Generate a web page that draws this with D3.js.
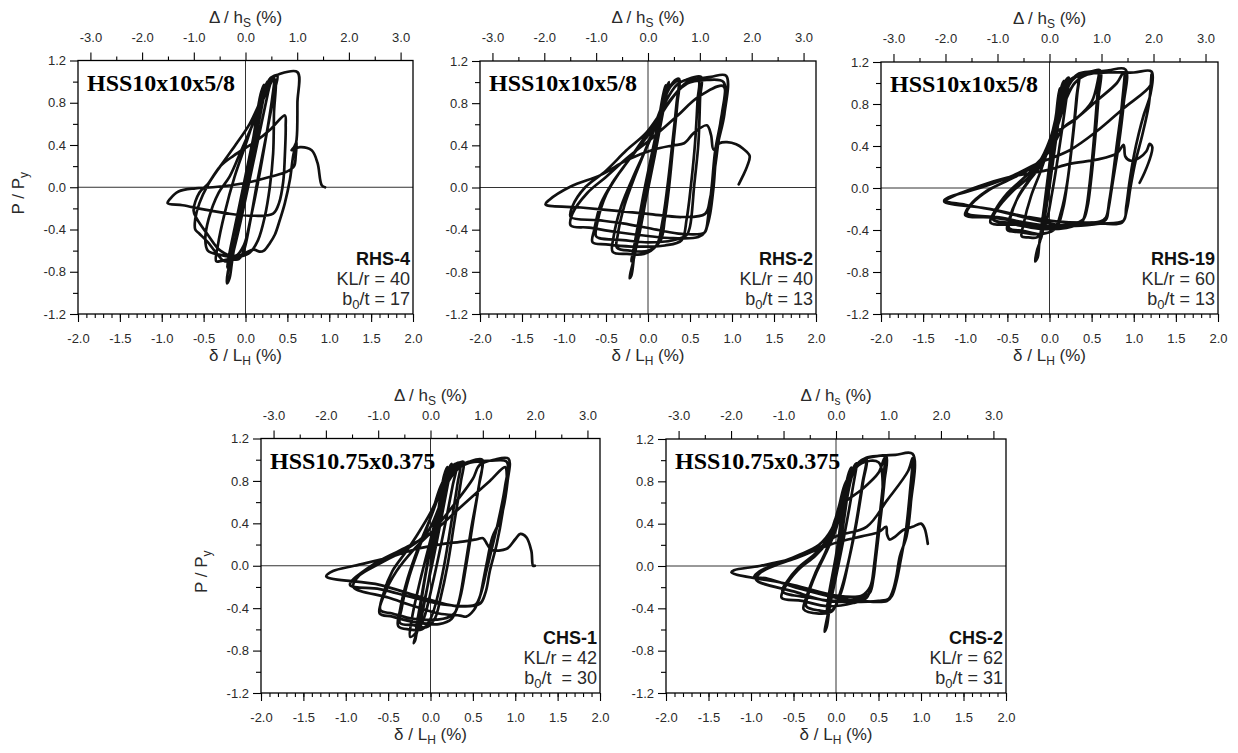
<!DOCTYPE html>
<html>
<head>
<meta charset="utf-8">
<script src="https://cdn.jsdelivr.net/npm/d3@7"></script>
<style>
  body { margin: 0; background: #fff; }
  svg { display: block; }
</style>
</head>
<body>
<svg id="chart" width="1238" height="753"></svg>
<script>
// ---- Specimen labels ----
const specimenIds = ["RHS-4", "RHS-2", "RHS-19", "CHS-1", "CHS-2"];
const sections = ["HSS10x10x5/8", "HSS10x10x5/8", "HSS10x10x5/8", "HSS10.75x0.375", "HSS10.75x0.375"];
const slenderness = ["40", "40", "60", "42", "62"];
const widthThickness = ["17", "13", "13", "30", "31"];
const widthThicknessGap = [" ", " ", " ", "  ", " "];

// ---- Axis ticks ----
const bottomMajor = [-2, -1.5, -1, -0.5, 0, 0.5, 1, 1.5, 2];
const bottomMinor = d3.range(-20, 21).map(i => i / 10);
const topMajor = [-3, -2, -1, 0, 1, 2, 3];
const topMinor = [-2.5, -1.5, -0.5, 0.5, 1.5, 2.5];
const leftMajor = [-1.2, -0.8, -0.4, 0, 0.4, 0.8, 1.2];
const leftMinor = [-1.0, -0.6, -0.2, 0.2, 0.6, 1.0];

// ---- Hysteresis records: [delta/LH (%), P/Py] ----
const rhs4 = [
  [0,0],[0.1,0.5],[0.18,0.88],[0.22,0.97],[0.19,0.85],[0.08,0.38],[-0.04,-0.15],[-0.12,-0.5],[-0.15,-0.6],
  [-0.13,-0.52],[-0.02,-0.05],[0.1,0.45],[0.2,0.86],[0.26,1.0],[0.23,0.9],[0.12,0.45],[0.0,-0.05],[-0.12,-0.48],[-0.2,-0.7],[-0.22,-0.76],[-0.2,-0.66],
  [-0.08,-0.2],[0.05,0.3],[0.18,0.78],[0.27,1.0],[0.31,1.04],[0.27,0.9],[0.15,0.45],[0.03,0.0],[-0.08,-0.4],[-0.16,-0.66],[-0.21,-0.8],[-0.22,-0.91],[-0.19,-0.86],[-0.16,-0.7],
  [-0.1,-0.4],[0.0,0.0],[0.12,0.5],[0.22,0.88],[0.3,1.03],[0.38,1.06],
  [0.35,0.92],[0.25,0.5],[0.14,0.05],[0.05,-0.35],[-0.02,-0.6],[-0.08,-0.68],[-0.2,-0.68],[-0.3,-0.7],[-0.35,-0.7],
  [-0.33,-0.55],[-0.25,-0.25],[-0.13,0.1],[0.0,0.4],[0.15,0.75],[0.27,0.98],[0.33,1.04],[0.4,1.07],[0.62,1.09],
  [0.62,0.8],[0.61,0.45],[0.57,0.3],[0.53,0.07],[0.47,-0.15],[0.41,-0.31],[0.35,-0.45],[0.29,-0.53],[0.22,-0.6],[0.17,-0.61],[0.1,-0.59],[0.0,-0.62],[-0.15,-0.68],[-0.25,-0.7],[-0.35,-0.62],[-0.45,-0.52],[-0.55,-0.44],[-0.6,-0.4],
  [-0.6,-0.3],[-0.55,-0.15],[-0.45,0.02],[-0.3,0.2],[-0.12,0.4],[0.05,0.6],[0.2,0.85],[0.3,1.0],[0.35,1.02],
  [0.34,0.7],[0.33,0.32],[0.29,0.0],[0.23,-0.28],[0.15,-0.5],[0.05,-0.62],[-0.1,-0.66],[-0.3,-0.64],[-0.45,-0.6],
  [-0.48,-0.5],[-0.44,-0.3],[-0.32,-0.05],[-0.19,0.1],[-0.05,0.35],[0.1,0.62],[0.25,0.9],[0.34,1.03],
  [0.32,0.85],[0.24,0.45],[0.15,0.05],[0.06,-0.3],[-0.02,-0.55],[-0.12,-0.65],[-0.3,-0.6],[-0.45,-0.45],[-0.58,-0.3],[-0.62,-0.22],
  [-0.55,-0.05],[-0.45,0.03],[-0.3,0.2],[-0.14,0.3],[0.13,0.44],[0.3,0.55],[0.47,0.68],
  [0.48,0.58],[0.47,0.3],[0.45,0.05],[0.4,-0.15],[0.33,-0.25],[0.1,-0.27],[-0.2,-0.25],[-0.5,-0.21],[-0.75,-0.17],[-0.93,-0.15],
  [-0.9,-0.11],[-0.8,-0.04],[-0.6,-0.01],[-0.39,0.0],[0.0,0.04],[0.3,0.1],[0.5,0.15],[0.58,0.2],[0.6,0.3],[0.61,0.43],
  [0.58,0.38],[0.55,0.35],[0.65,0.38],[0.79,0.35],[0.86,0.23],[0.91,0.02],[0.95,0.0]
];

const rhs2 = [
  [0,0],[0.1,0.5],[0.18,0.88],[0.21,0.97],[0.17,0.8],[0.05,0.25],[-0.08,-0.35],[-0.16,-0.62],[-0.2,-0.7],
  [-0.17,-0.58],[-0.05,-0.05],[0.08,0.45],[0.2,0.9],[0.25,1.0],[0.21,0.85],[0.08,0.3],[-0.06,-0.25],[-0.17,-0.68],[-0.22,-0.86],[-0.2,-0.84],[-0.16,-0.62],
  [-0.05,-0.1],[0.08,0.42],[0.2,0.85],[0.3,1.0],[0.37,1.03],[0.35,0.8],[0.3,0.4],[0.25,0.0],[0.2,-0.3],[0.15,-0.5],[0.0,-0.6],[-0.2,-0.6],[-0.37,-0.57],
  [-0.36,-0.45],[-0.28,-0.17],[-0.15,0.12],[0.0,0.42],[0.15,0.74],[0.27,0.96],[0.36,1.01],[0.34,0.8],[0.29,0.42],[0.23,0.0],[0.17,-0.33],[0.1,-0.55],[-0.05,-0.63],[-0.25,-0.63],[-0.42,-0.61],
  [-0.41,-0.47],[-0.32,-0.18],[-0.16,0.13],[0.04,0.48],[0.2,0.8],[0.35,0.98],[0.45,1.02],[0.63,1.05],
  [0.62,0.85],[0.6,0.42],[0.55,0.02],[0.5,-0.37],[0.46,-0.45],[0.3,-0.5],[0.0,-0.52],[-0.3,-0.5],[-0.58,-0.48],[-0.62,-0.46],
  [-0.6,-0.32],[-0.5,-0.07],[-0.35,0.13],[-0.15,0.34],[0.05,0.55],[0.22,0.77],[0.37,0.93],[0.47,1.0],[0.6,1.02],
  [0.59,0.83],[0.56,0.42],[0.51,0.01],[0.46,-0.3],[0.4,-0.5],[0.2,-0.55],[-0.2,-0.56],[-0.5,-0.54],[-0.66,-0.52],
  [-0.64,-0.4],[-0.56,-0.15],[-0.42,0.05],[-0.22,0.27],[-0.02,0.5],[0.2,0.76],[0.4,0.95],[0.55,1.02],[0.75,1.05],[0.93,1.06],
  [0.91,0.7],[0.82,0.36],[0.78,0.0],[0.74,-0.25],[0.7,-0.38],[0.67,-0.43],[0.4,-0.44],[0.1,-0.4],[-0.3,-0.34],[-0.6,-0.31],[-0.92,-0.28],
  [-0.9,-0.18],[-0.75,0.0],[-0.5,0.16],[-0.26,0.35],[-0.02,0.52],[0.21,0.77],[0.45,0.98],[0.7,1.02],[0.9,1.0],
  [0.88,0.7],[0.8,0.35],[0.76,0.02],[0.72,-0.25],[0.68,-0.42],[0.6,-0.47],[0.3,-0.48],[0.0,-0.46],[-0.4,-0.42],[-0.7,-0.38],[-0.92,-0.36],
  [-0.9,-0.25],[-0.72,-0.05],[-0.5,0.1],[-0.25,0.28],[0.05,0.47],[0.35,0.68],[0.6,0.86],[0.9,0.96],
  [0.86,0.6],[0.8,0.2],[0.74,-0.1],[0.68,-0.25],[0.4,-0.28],[0.0,-0.25],[-0.4,-0.22],[-0.8,-0.19],[-1.22,-0.16],
  [-1.18,-0.12],[-0.92,0.01],[-0.56,0.12],[-0.25,0.26],[0.07,0.36],[0.3,0.4],[0.43,0.42],[0.55,0.52],[0.7,0.59],
  [0.75,0.5],[0.78,0.36],[0.85,0.42],[0.94,0.43],[1.05,0.41],[1.13,0.37],[1.21,0.3],[1.18,0.2],[1.13,0.11],[1.08,0.03]
];

const rhs19 = [
  [0,0],[0.05,0.45],[0.1,0.85],[0.12,0.95],[0.09,0.7],[0.02,0.2],[-0.05,-0.25],[-0.09,-0.45],[-0.11,-0.5],
  [-0.09,-0.35],[-0.02,0.1],[0.06,0.6],[0.13,0.93],[0.17,1.02],[0.13,0.78],[0.05,0.3],[-0.04,-0.2],[-0.11,-0.5],[-0.15,-0.6],[-0.17,-0.7],[-0.14,-0.66],[-0.12,-0.52],
  [-0.05,-0.1],[0.04,0.4],[0.12,0.82],[0.19,1.02],[0.23,1.05],[0.2,0.85],[0.12,0.4],[0.03,-0.05],[-0.05,-0.35],[-0.15,-0.47],[-0.25,-0.47],[-0.33,-0.46],
  [-0.31,-0.35],[-0.22,-0.08],[-0.1,0.17],[0.0,0.42],[0.1,0.75],[0.2,1.0],[0.3,1.06],[0.35,1.08],
  [0.33,0.9],[0.28,0.5],[0.22,0.1],[0.16,-0.2],[0.08,-0.38],[-0.1,-0.44],[-0.3,-0.41],[-0.48,-0.38],
  [-0.46,-0.27],[-0.37,-0.08],[-0.24,0.08],[-0.1,0.24],[0.02,0.45],[0.12,0.72],[0.22,0.96],[0.3,1.05],[0.34,1.06],
  [0.32,0.86],[0.27,0.45],[0.21,0.05],[0.14,-0.22],[0.05,-0.4],[-0.15,-0.44],[-0.35,-0.42],[-0.5,-0.4],
  [-0.48,-0.3],[-0.38,-0.1],[-0.25,0.06],[-0.1,0.22],[0.02,0.45],[0.12,0.75],[0.22,0.98],[0.35,1.09],[0.5,1.11],[0.6,1.12],
  [0.58,0.85],[0.54,0.45],[0.49,0.05],[0.45,-0.18],[0.4,-0.3],[0.25,-0.35],[0.0,-0.38],[-0.3,-0.34],[-0.67,-0.3],
  [-0.62,-0.2],[-0.45,-0.04],[-0.25,0.1],[-0.08,0.27],[0.03,0.5],[0.17,0.58],[0.33,0.67],[0.5,0.82],[0.58,1.05],[0.59,1.1],
  [0.56,0.8],[0.52,0.4],[0.47,0.0],[0.43,-0.22],[0.38,-0.33],[0.2,-0.38],[-0.1,-0.39],[-0.4,-0.35],[-0.7,-0.33],
  [-0.65,-0.22],[-0.5,-0.05],[-0.3,0.1],[-0.12,0.25],[0.0,0.45],[0.1,0.72],[0.2,0.95],[0.32,1.06],[0.5,1.1],[0.7,1.12],[0.9,1.13],
  [0.88,0.8],[0.82,0.4],[0.78,0.2],[0.74,0.0],[0.7,-0.2],[0.67,-0.3],[0.55,-0.34],[0.3,-0.36],[0.0,-0.38],[-0.3,-0.33],[-0.6,-0.28],[-0.98,-0.24],
  [-0.92,-0.15],[-0.72,-0.02],[-0.45,0.09],[-0.2,0.2],[0.0,0.35],[0.17,0.58],[0.33,0.67],[0.56,0.83],[0.8,1.0],[0.88,1.1],
  [0.86,0.8],[0.8,0.42],[0.75,0.1],[0.71,-0.12],[0.67,-0.28],[0.6,-0.32],[0.3,-0.34],[0.0,-0.36],[-0.35,-0.32],[-0.7,-0.28],[-1.0,-0.26],
  [-0.95,-0.17],[-0.75,-0.03],[-0.5,0.07],[-0.2,0.2],[-0.02,0.36],[0.1,0.6],[0.2,0.85],[0.3,1.0],[0.45,1.08],[0.7,1.1],[1.0,1.1],[1.21,1.11],
  [1.2,0.9],[1.12,0.7],[1.06,0.52],[1.0,0.3],[0.95,0.06],[0.91,-0.18],[0.88,-0.31],[0.6,-0.34],[0.2,-0.36],[-0.2,-0.3],[-0.6,-0.22],[-1.0,-0.16],[-1.25,-0.12],
  [-1.2,-0.09],[-0.83,0.0],[-0.43,0.12],[-0.15,0.23],[0.24,0.36],[0.56,0.54],[0.88,0.76],[1.2,0.98],[1.21,1.08],
  [1.18,0.8],[1.1,0.5],[1.02,0.25],[0.96,0.0],[0.92,-0.2],[0.86,-0.33],[0.5,-0.33],[0.1,-0.32],[-0.3,-0.27],[-0.7,-0.2],[-1.25,-0.13],
  [-1.2,-0.1],[-0.83,0.02],[-0.5,0.1],[-0.03,0.17],[0.24,0.23],[0.56,0.27],[0.8,0.33],[0.88,0.41],[0.9,0.3],[0.96,0.26],
  [1.07,0.29],[1.15,0.35],[1.19,0.42],[1.22,0.39],[1.2,0.3],[1.13,0.15],[1.07,0.05]
];

const chs1 = [
  [0,0],[0.08,0.45],[0.16,0.85],[0.2,0.93],[0.16,0.72],[0.05,0.2],[-0.06,-0.3],[-0.13,-0.55],[-0.17,-0.6],
  [-0.14,-0.45],[-0.03,0.05],[0.1,0.55],[0.2,0.88],[0.25,0.96],[0.2,0.75],[0.08,0.25],[-0.05,-0.25],[-0.15,-0.6],[-0.2,-0.73],[-0.18,-0.7],[-0.14,-0.5],
  [-0.05,-0.05],[0.08,0.45],[0.2,0.85],[0.27,0.95],[0.31,0.96],[0.26,0.75],[0.15,0.3],[0.03,-0.15],[-0.08,-0.5],[-0.16,-0.62],[-0.24,-0.67],
  [-0.22,-0.5],[-0.14,-0.2],[-0.03,0.15],[0.1,0.55],[0.22,0.85],[0.32,0.96],[0.39,0.98],
  [0.36,0.8],[0.28,0.4],[0.2,0.0],[0.12,-0.3],[0.05,-0.5],[-0.05,-0.58],[-0.2,-0.56],[-0.36,-0.54],
  [-0.34,-0.4],[-0.25,-0.1],[-0.12,0.2],[0.0,0.45],[0.12,0.75],[0.25,0.93],[0.35,0.97],
  [0.32,0.78],[0.24,0.38],[0.16,0.0],[0.08,-0.3],[0.0,-0.5],[-0.1,-0.6],[-0.25,-0.6],[-0.38,-0.57],
  [-0.36,-0.42],[-0.27,-0.12],[-0.14,0.18],[0.0,0.45],[0.15,0.75],[0.3,0.92],[0.45,0.98],[0.61,1.0],
  [0.58,0.8],[0.5,0.4],[0.42,0.0],[0.35,-0.3],[0.28,-0.45],[0.15,-0.5],[-0.2,-0.5],[-0.45,-0.45],[-0.59,-0.42],
  [-0.55,-0.25],[-0.45,-0.05],[-0.3,0.12],[-0.15,0.3],[0.0,0.5],[0.15,0.75],[0.3,0.92],[0.45,0.97],[0.6,0.97],
  [0.57,0.75],[0.48,0.35],[0.4,-0.05],[0.33,-0.35],[0.25,-0.5],[0.1,-0.55],[-0.2,-0.53],[-0.45,-0.48],[-0.6,-0.45],
  [-0.55,-0.28],[-0.4,-0.05],[-0.2,0.15],[0.05,0.35],[0.3,0.6],[0.5,0.82],[0.58,0.95],[0.75,1.0],[0.92,1.01],
  [0.91,0.8],[0.83,0.45],[0.73,0.27],[0.67,0.05],[0.63,-0.11],[0.58,-0.3],[0.51,-0.42],[0.42,-0.48],[0.35,-0.47],[0.1,-0.45],[-0.2,-0.38],[-0.5,-0.3],[-0.91,-0.2],
  [-0.85,-0.1],[-0.6,0.02],[-0.3,0.15],[-0.05,0.3],[0.1,0.55],[0.2,0.78],[0.35,0.93],[0.5,0.98],[0.7,0.99],[0.9,0.98],
  [0.88,0.75],[0.8,0.42],[0.72,0.15],[0.66,-0.05],[0.6,-0.25],[0.55,-0.35],[0.52,-0.37],[0.2,-0.37],[-0.2,-0.3],[-0.6,-0.22],[-0.95,-0.18],
  [-0.7,0.0],[-0.35,0.15],[0.0,0.3],[0.35,0.55],[0.7,0.8],[0.88,0.93],[0.9,0.85],[0.85,0.5],[0.78,0.2],[0.7,-0.05],[0.65,-0.25],[0.58,-0.36],[0.3,-0.38],[-0.1,-0.3],[-0.6,-0.18],[-1.23,-0.1],
  [-1.15,-0.05],[-0.9,0.0],[-0.48,0.08],[-0.16,0.16],[0.1,0.2],[0.4,0.23],[0.55,0.25],[0.62,0.26],[0.67,0.2],[0.72,0.15],
  [0.9,0.16],[1.0,0.25],[1.06,0.3],[1.13,0.27],[1.19,0.14],[1.21,0.0],[1.23,0.0]
];

const chs2 = [
  [0,0],[0.06,0.45],[0.14,0.85],[0.18,0.93],[0.14,0.7],[0.05,0.2],[-0.04,-0.2],[-0.09,-0.4],[-0.11,-0.45],
  [-0.09,-0.3],[0.0,0.1],[0.1,0.6],[0.2,0.92],[0.24,0.97],[0.2,0.75],[0.1,0.3],[0.0,-0.1],[-0.08,-0.4],[-0.12,-0.55],[-0.135,-0.62],[-0.11,-0.58],[-0.08,-0.42],
  [0.0,0.0],[0.1,0.5],[0.2,0.88],[0.28,0.98],[0.36,1.01],[0.32,0.8],[0.24,0.4],[0.15,0.05],[0.06,-0.25],[-0.05,-0.42],[-0.2,-0.42],[-0.35,-0.38],
  [-0.33,-0.28],[-0.24,-0.08],[-0.12,0.12],[0.0,0.35],[0.1,0.65],[0.2,0.88],[0.3,0.98],[0.35,1.0],
  [0.31,0.78],[0.23,0.38],[0.14,0.02],[0.05,-0.25],[-0.05,-0.43],[-0.2,-0.45],[-0.38,-0.41],
  [-0.35,-0.3],[-0.25,-0.08],[-0.12,0.14],[0.0,0.4],[0.1,0.7],[0.22,0.93],[0.35,1.02],[0.5,1.04],[0.59,1.04],
  [0.57,0.8],[0.52,0.42],[0.47,0.08],[0.44,-0.12],[0.4,-0.25],[0.3,-0.3],[0.0,-0.33],[-0.3,-0.3],[-0.63,-0.24],
  [-0.58,-0.15],[-0.45,-0.02],[-0.24,0.12],[-0.08,0.28],[0.0,0.46],[0.1,0.6],[0.3,0.72],[0.5,0.88],[0.57,1.02],
  [0.55,0.75],[0.5,0.38],[0.45,0.02],[0.41,-0.2],[0.36,-0.3],[0.2,-0.35],[-0.1,-0.38],[-0.4,-0.33],[-0.64,-0.3],
  [-0.6,-0.2],[-0.45,-0.04],[-0.24,0.1],[-0.08,0.25],[0.0,0.44],[0.08,0.65],[0.18,0.88],[0.3,1.0],[0.5,1.04],[0.7,1.05],[0.9,1.06],
  [0.88,0.59],[0.83,0.28],[0.75,0.09],[0.71,-0.1],[0.67,-0.23],[0.62,-0.31],[0.5,-0.33],[0.2,-0.34],[-0.1,-0.33],[-0.5,-0.24],[-0.94,-0.13],
  [-0.9,-0.07],[-0.7,0.01],[-0.45,0.08],[-0.2,0.17],[0.0,0.28],[0.36,0.37],[0.6,0.62],[0.85,0.9],[0.9,1.02],
  [0.87,0.7],[0.82,0.32],[0.76,0.05],[0.71,-0.15],[0.66,-0.28],[0.6,-0.33],[0.3,-0.33],[0.0,-0.3],[-0.4,-0.22],[-0.8,-0.12],[-0.96,-0.1],
  [-0.9,-0.05],[-0.7,0.02],[-0.45,0.1],[-0.2,0.2],[-0.05,0.35],[0.03,0.55],[0.12,0.8],[0.3,0.97],[0.5,0.98],[0.55,0.7],[0.5,0.3],[0.45,0.0],[0.4,-0.2],[0.3,-0.28],[0.0,-0.28],[-0.5,-0.18],[-1.23,-0.06],
  [-1.2,-0.04],[-0.9,0.0],[-0.51,0.07],[-0.24,0.15],[0.0,0.22],[0.3,0.28],[0.5,0.32],[0.59,0.37],[0.6,0.3],[0.63,0.25],
  [0.7,0.28],[0.79,0.34],[0.9,0.37],[1.0,0.4],[1.04,0.36],[1.08,0.21]
];

const records = [rhs4, rhs2, rhs19, chs1, chs2];

// Drift conversion between brace elongation (delta/LH) and story drift (Delta/hs)
const driftFactor = 1.62;

// ---- Panel placement ----
const frames = [
  { left: 78,  right: 413,  top: 60.5,  bottom: 314, yTitle: true,  sub: "S" },
  { left: 480, right: 816,  top: 61,    bottom: 314, yTitle: false, sub: "S" },
  { left: 881, right: 1218, top: 62,    bottom: 314, yTitle: false, sub: "S" },
  { left: 261, right: 600,  top: 438.5, bottom: 693, yTitle: true,  sub: "S" },
  { left: 666, right: 1006, top: 439,   bottom: 693, yTitle: false, sub: "s" }
];

const sans = "'Liberation Sans', Arial, sans-serif";
const serif = "'Liberation Serif', 'Times New Roman', serif";
const svg = d3.select("#chart").style("font-family", sans);
const fmt = d => d.toFixed(1);
const ink = "#111";
const labelInk = "#2a2a2a";

frames.forEach((f, i) => {
  const x = d3.scaleLinear().domain([-2, 2]).range([f.left, f.right]);
  const xTop = d3.scaleLinear().domain([-2 * driftFactor, 2 * driftFactor]).range([f.left, f.right]);
  const y = d3.scaleLinear().domain([-1.2, 1.2]).range([f.bottom, f.top]);
  const g = svg.append("g");

  // reference lines through the origin
  g.append("line").attr("x1", x(0)).attr("x2", x(0)).attr("y1", f.top).attr("y2", f.bottom)
    .attr("stroke", "#333").attr("stroke-width", 1);
  g.append("line").attr("x1", f.left).attr("x2", f.right).attr("y1", y(0)).attr("y2", y(0))
    .attr("stroke", "#333").attr("stroke-width", 1);

  // hysteresis curve
  const line = d3.line().x(d => x(d[0])).y(d => y(d[1])).curve(d3.curveCatmullRom.alpha(0.5));
  g.append("path").datum(records[i]).attr("d", line)
    .attr("fill", "none").attr("stroke", ink).attr("stroke-width", 2.7)
    .attr("stroke-linejoin", "round").attr("stroke-linecap", "round");

  // frame
  g.append("rect").attr("x", f.left).attr("y", f.top)
    .attr("width", f.right - f.left).attr("height", f.bottom - f.top)
    .attr("fill", "none").attr("stroke", "#000").attr("stroke-width", 1.3);

  const styleAxis = sel => {
    sel.attr("font-family", null).attr("font-size", null);
    sel.select(".domain").remove();
    sel.selectAll(".tick line").attr("stroke", "#000").attr("stroke-width", 1.1);
    sel.selectAll("text").style("font-family", sans).style("font-size", "13px").attr("fill", labelInk);
  };

  // bottom axis
  g.append("g").attr("transform", `translate(0,${f.bottom})`)
    .call(d3.axisBottom(x).tickValues(bottomMinor).tickSize(4).tickFormat(""))
    .call(styleAxis);
  g.append("g").attr("transform", `translate(0,${f.bottom})`)
    .call(d3.axisBottom(x).tickValues(bottomMajor).tickSize(8).tickFormat(fmt))
    .call(styleAxis)
    .call(a => a.selectAll("text").attr("y", 29).attr("dy", null));

  // top axis (story drift)
  g.append("g").attr("transform", `translate(0,${f.top})`)
    .call(d3.axisTop(xTop).tickValues(topMinor).tickSize(4).tickFormat(""))
    .call(styleAxis);
  g.append("g").attr("transform", `translate(0,${f.top})`)
    .call(d3.axisTop(xTop).tickValues(topMajor).tickSize(8).tickFormat(fmt))
    .call(styleAxis)
    .call(a => a.selectAll("text").attr("y", -19).attr("dy", null));

  // left axis
  g.append("g").attr("transform", `translate(${f.left},0)`)
    .call(d3.axisLeft(y).tickValues(leftMinor).tickSize(5).tickFormat(""))
    .call(styleAxis);
  g.append("g").attr("transform", `translate(${f.left},0)`)
    .call(d3.axisLeft(y).tickValues(leftMajor).tickSize(8).tickFormat(fmt))
    .call(styleAxis)
    .call(a => a.selectAll("text").attr("x", -12));

  // axis titles
  const topTitle = g.append("text").attr("x", x(0)).attr("y", f.top - 38)
    .attr("text-anchor", "middle").style("font-size", "17px").attr("fill", labelInk);
  topTitle.append("tspan").text("\u0394 / h");
  topTitle.append("tspan").style("font-size", "12px").attr("dy", 4).text(f.sub);
  topTitle.append("tspan").attr("dy", -4).text(" (%)");

  const botTitle = g.append("text").attr("x", x(0)).attr("y", f.bottom + 47)
    .attr("text-anchor", "middle").style("font-size", "17px").attr("fill", labelInk);
  botTitle.append("tspan").text("\u03b4 / L");
  botTitle.append("tspan").style("font-size", "12px").attr("dy", 4).text("H");
  botTitle.append("tspan").attr("dy", -4).text(" (%)");

  if (f.yTitle) {
    const cy = (f.top + f.bottom) / 2 + 6;
    const yt = g.append("text").attr("transform", `translate(${f.left - 54},${cy}) rotate(-90)`)
      .attr("text-anchor", "middle").style("font-size", "17px").attr("fill", labelInk);
    yt.append("tspan").text("P / P");
    yt.append("tspan").style("font-size", "12px").attr("dy", 4).text("y");
  }

  // section designation
  g.append("text").attr("x", f.left + 9).attr("y", f.top + 30)
    .style("font-family", serif).style("font-weight", "bold").style("font-size", "24px")
    .attr("fill", "#000").text(sections[i]);

  // specimen annotation
  const ax = f.right - 3;
  g.append("text").attr("x", ax).attr("y", f.bottom - 49).attr("text-anchor", "end")
    .style("font-size", "18px").style("font-weight", "bold").attr("fill", ink).text(specimenIds[i]);
  g.append("text").attr("x", ax).attr("y", f.bottom - 29).attr("text-anchor", "end")
    .style("font-size", "18px").attr("fill", labelInk).text("KL/r = " + slenderness[i]);
  const bt = g.append("text").attr("x", ax).attr("y", f.bottom - 9).attr("text-anchor", "end")
    .style("font-size", "18px").style("white-space", "pre").attr("fill", labelInk);
  bt.append("tspan").text("b");
  bt.append("tspan").style("font-size", "13px").attr("dy", 4).text("0");
  bt.append("tspan").attr("dy", -4).text("/t" + widthThicknessGap[i] + "= " + widthThickness[i]);
});
</script>
</body>
</html>
